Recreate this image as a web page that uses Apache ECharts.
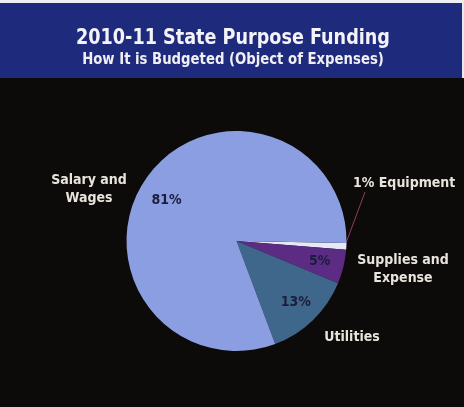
<!DOCTYPE html>
<html>
<head>
<meta charset="utf-8">
<script src="https://cdn.jsdelivr.net/npm/echarts@6/dist/echarts.min.js"></script>
<style>
  html, body { margin: 0; padding: 0; background: #ffffff; }
  #chart { width: 464px; height: 407px; }
</style>
</head>
<body>
<div id="chart"></div>
<script>
// Object-of-expense shares of 2010-11 state purpose funding (percent)
const categories = ['Equipment', 'Supplies and Expense', 'Utilities', 'Salary and Wages'];
const shares = [1, 5, 13, 81];
const outsideNames = ['Equipment', 'Supplies and\nExpense', 'Utilities', 'Salary and\nWages'];
const sliceColors = ['#e6e8f4', '#5c2b84', '#3e678b', '#8c9ee2'];
const headline = '2010-11 State Purpose Funding';
const subline = 'How It is Budgeted (Object of Expenses)';

const FONT = '"DejaVu Sans Condensed", "Liberation Sans", sans-serif';
const CX = 236.5, CY = 241, R = 110;

// where each outside name sits, by slice
const nameSpots = [
  { x: 353, y: 183, align: 'left' },
  { x: 403, y: 269, align: 'center' },
  { x: 352, y: 337, align: 'center' },
  { x: 89,  y: 189, align: 'center' }
];

const chart = echarts.init(document.getElementById('chart'), null, { renderer: 'canvas' });

chart.setOption({
  animation: false,
  backgroundColor: '#0d0a0a',
  graphic: [
    { type: 'rect', left: 0, top: 0, shape: { width: 464, height: 3 }, style: { fill: '#eef0f4' }, z: -10 },
    { type: 'rect', left: 0, top: 3, shape: { width: 462, height: 75 }, style: { fill: '#1e2a7c' }, z: -10 },
    { type: 'rect', left: 462, top: 0, shape: { width: 2, height: 78 }, style: { fill: '#e8eaf0' }, z: -10 },
    {
      type: 'text', x: 233, y: 38, scaleX: 0.89, z: 10,
      style: {
        text: headline, fill: '#f4f4f8', textAlign: 'center', textVerticalAlign: 'middle',
        font: 'bold 22px ' + FONT
      }
    },
    {
      type: 'text', x: 233, y: 60, scaleX: 0.92, z: 10,
      style: {
        text: subline, fill: '#f0f0f4', textAlign: 'center', textVerticalAlign: 'middle',
        font: 'bold 16px ' + FONT
      }
    }
  ],
  series: [
    {
      type: 'pie',
      center: [CX, CY],
      radius: [0, R],
      startAngle: -1,
      clockwise: true,
      avoidLabelOverlap: false,
      silent: true,
      itemStyle: { borderWidth: 0 },
      data: categories.map((c, i) => ({
        name: c,
        value: shares[i],
        itemStyle: { color: sliceColors[i] },
        labelLine: { show: i === 0 }
      })),
      label: {
        show: true,
        position: 'outside',
        color: '#e8e4dc',
        fontFamily: FONT,
        fontWeight: 'bold',
        fontSize: 14,
        lineHeight: 18,
        formatter: p => p.dataIndex === 0 ? p.value + '% ' + outsideNames[0] : outsideNames[p.dataIndex]
      },
      labelLine: { show: false, lineStyle: { color: '#8a3d62', width: 1 } },
      labelLayout: p => {
        const s = nameSpots[p.dataIndex];
        const out = { x: s.x, y: s.y, align: s.align, verticalAlign: 'middle' };
        if (p.dataIndex === 0) {
          out.labelLinePoints = [[CX + R - 0.5, CY + 2], [365, 192], [365, 192]];
        }
        return out;
      }
    },
    {
      // percentage labels placed in the outer part of each slice
      type: 'pie',
      center: [CX, CY],
      radius: [R * 0.5, R],
      startAngle: -1,
      clockwise: true,
      silent: true,
      avoidLabelOverlap: false,
      itemStyle: { color: 'rgba(0,0,0,0)', borderWidth: 0 },
      data: categories.map((c, i) => ({ name: c, value: shares[i] })),
      label: {
        show: true,
        position: 'inside',
        color: '#1b1d3c',
        fontFamily: FONT,
        fontWeight: 'bold',
        fontSize: 14,
        formatter: p => p.dataIndex === 0 ? '' : p.value + '%'
      },
      labelLine: { show: false },
      labelLayout: p => (p.dataIndex === 3 ? { dy: 9 } : {})
    }
  ]
});
</script>
</body>
</html>
